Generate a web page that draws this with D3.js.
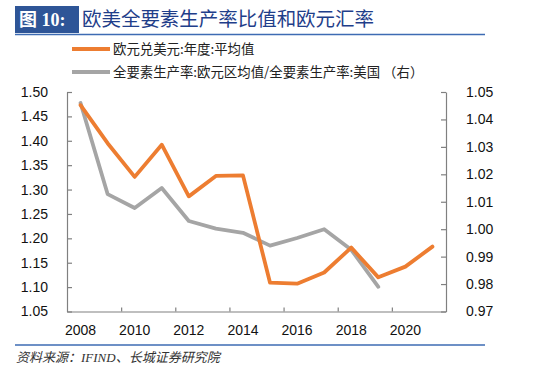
<!DOCTYPE html>
<html><head><meta charset="utf-8">
<script src="https://cdn.jsdelivr.net/npm/d3@7"></script>
<style>
body{margin:0;background:#fff;}
svg{display:block;}
</style></head>
<body>
<svg id="c" width="550" height="367"></svg>
<script>
const years = [2008,2009,2010,2011,2012,2013,2014,2015,2016,2017,2018,2019,2020,2021];
const eurusd = [1.473,1.395,1.326,1.392,1.286,1.328,1.329,1.109,1.107,1.130,1.181,1.120,1.142,1.183];
const tfpYears = [2008,2009,2010,2011,2012,2013,2014,2015,2016,2017,2018,2019];
const tfpRatio = [1.046,1.0128,1.0077,1.0150,1.0030,1.0002,0.9987,0.9940,0.9968,1.0000,0.9925,0.9790];
const leftTicks = [1.05,1.10,1.15,1.20,1.25,1.30,1.35,1.40,1.45,1.50];
const rightTicks = [0.97,0.98,0.99,1.00,1.01,1.02,1.03,1.04,1.05];
const xLabels = [2008,2010,2012,2014,2016,2018,2020];
const seriesNames = ["欧元兑美元:年度:平均值","全要素生产率:欧元区均值/全要素生产率:美国 （右）"];
const titleTag = "图 10:";
const titleText = "欧美全要素生产率比值和欧元汇率";
const sourceText = "资料来源：IFIND、长城证券研究院";

const svg = d3.select("#c");
const orange = "#ED7D31", grey = "#A5A5A5", axisCol = "#808080";
const numFont = "'Liberation Sans', Arial, sans-serif";
const cjkFont = "'Noto Sans CJK SC', 'Liberation Sans', sans-serif";

const x = d3.scaleBand().domain(years).range([67, 446]);
const yL = d3.scaleLinear().domain([1.05,1.50]).range([311.5, 92]);
const yR = d3.scaleLinear().domain([0.97,1.05]).range([311.5, 92]);
const cx = d => x(d) + x.bandwidth()/2;

// Title
svg.append("rect").attr("x",15).attr("y",6).attr("width",64).attr("height",27).attr("fill","#2E5597");
svg.append("text").attr("x",19).attr("y",26).attr("fill","#fff")
  .attr("font-family","'Liberation Serif', 'Noto Sans CJK SC', serif").attr("font-weight","bold").attr("font-size",18)
  .text(titleTag);
svg.append("text").attr("x",82).attr("y",26).attr("fill","#1F3E8A")
  .attr("font-family",cjkFont).attr("font-size",19.5).attr("textLength",292).text(titleText);
svg.append("line").attr("x1",15).attr("x2",485).attr("y1",34.5).attr("y2",34.5)
  .attr("stroke","#3D6BB3").attr("stroke-width",1.6);

// Legend
const leg = [{c:orange,y:49,t:seriesNames[0]},{c:grey,y:72,t:seriesNames[1]}];
leg.forEach(l=>{
  svg.append("line").attr("x1",72).attr("x2",110).attr("y1",l.y).attr("y2",l.y)
    .attr("stroke",l.c).attr("stroke-width",4);
  svg.append("text").attr("x",113).attr("y",l.y+5).attr("font-family",cjkFont)
    .attr("font-size",13.4).attr("fill","#222").text(l.t);
});

// Axes
const gL = svg.append("g").attr("transform","translate(67,0)")
  .call(d3.axisLeft(yL).tickValues(leftTicks).tickFormat(d3.format(".2f")).tickSizeInner(-5).tickSizeOuter(0).tickPadding(19));
const gR = svg.append("g").attr("transform","translate(446,0)")
  .call(d3.axisRight(yR).tickValues(rightTicks).tickFormat(d3.format(".2f")).tickSizeInner(-5).tickSizeOuter(0).tickPadding(20));
const xb = d3.scaleLinear().domain([0,14]).range([67,446]);
const gX = svg.append("g").attr("transform","translate(0,311.5)")
  .call(d3.axisBottom(xb).tickValues([2,4,6,8,10,12]).tickSizeInner(-4).tickSizeOuter(0).tickFormat(""));
[gL,gR,gX].forEach(g=>{
  g.selectAll(".domain").attr("stroke",axisCol).attr("stroke-width",1.2);
  g.selectAll(".tick line").attr("stroke",axisCol).attr("stroke-width",1.2);
  g.selectAll("text").attr("font-family",numFont).attr("font-size",14).attr("fill","#111");
});
svg.append("g").selectAll("text").data(xLabels).join("text")
  .attr("x",d=>cx(d)).attr("y",335).attr("text-anchor","middle")
  .attr("font-family",numFont).attr("font-size",14).attr("fill","#111").text(d=>d);

// Lines
const lineL = d3.line().x((d,i)=>cx(years[i])).y(d=>yL(d));
const lineR = d3.line().x((d,i)=>cx(tfpYears[i])).y(d=>yR(d));
svg.append("path").attr("d",lineR(tfpRatio)).attr("fill","none").attr("stroke",grey)
  .attr("stroke-width",3.8).attr("stroke-linejoin","round").attr("stroke-linecap","round");
svg.append("path").attr("d",lineL(eurusd)).attr("fill","none").attr("stroke",orange)
  .attr("stroke-width",3.8).attr("stroke-linejoin","round").attr("stroke-linecap","round");

// Footer
svg.append("line").attr("x1",15).attr("x2",485).attr("y1",345).attr("y2",345)
  .attr("stroke","#3D6BB3").attr("stroke-width",1.6);
svg.append("text").attr("x",16).attr("y",362).attr("font-family","'Liberation Serif', 'Noto Sans CJK SC', serif")
  .attr("font-style","italic").attr("font-size",13).attr("fill","#333").text(sourceText);
</script>
</body></html>
